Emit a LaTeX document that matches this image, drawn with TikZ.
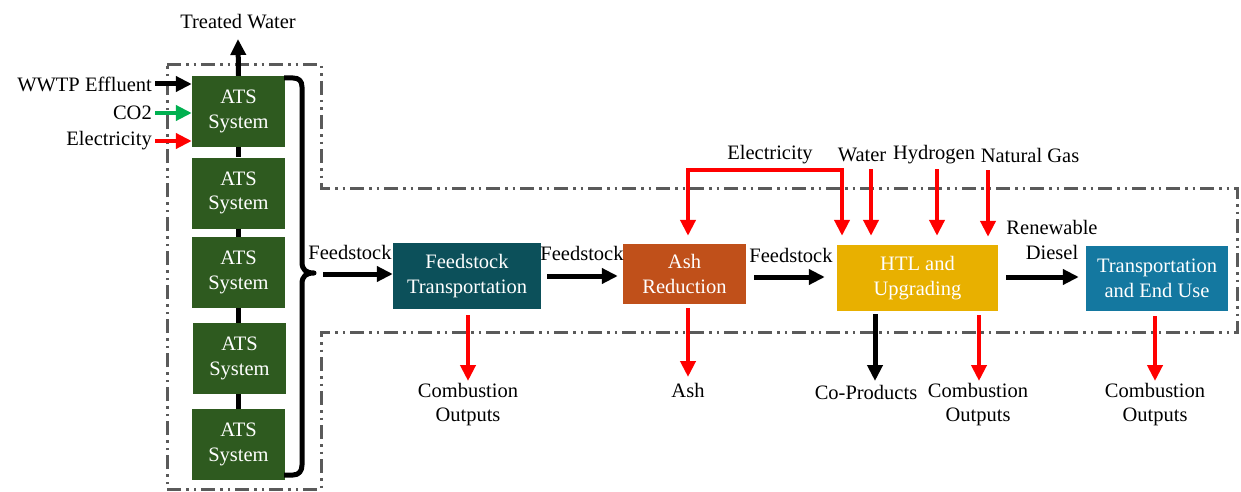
\documentclass[tikz,border=0pt]{standalone}
\usepackage{fontspec}
\setmainfont{Liberation Serif}
\newfontfamily\tnr{Liberation Serif}
\usetikzlibrary{arrows.meta}
\definecolor{atsgreen}{HTML}{2E5A1F}
\definecolor{ftteal}{HTML}{0C505A}
\definecolor{ashorange}{HTML}{C0501A}
\definecolor{htlgold}{HTML}{E8B000}
\definecolor{teblue}{HTML}{1478A0}
\definecolor{co2green}{HTML}{00B050}
\definecolor{bordergray}{HTML}{5A5A5A}
\begin{document}
\begin{tikzpicture}[x=1pt,y=-1pt,
  font=\tnr\fontsize{20.5}{24.5}\selectfont,
  procbox/.style={draw=none, text=white, align=center, inner sep=0pt},
  atsbox/.style={procbox, fill=atsgreen, minimum width=93pt, minimum height=71pt},
  lbl/.style={inner sep=0pt, align=center},
  blkarrow/.style={line width=5pt, black, -{Triangle[length=16pt,width=15pt]}},
  redarrow/.style={line width=4pt, red, -{Triangle[length=16pt,width=15pt]}},
  grnarrow/.style={line width=4pt, co2green, -{Triangle[length=16pt,width=15pt]}},
  blkline/.style={line width=5pt, black},
  border/.style={line width=3pt, bordergray,
    dash pattern=on 14pt off 5pt on 2.5pt off 5pt on 2.5pt off 5pt}]
\useasboundingbox (0,0) rectangle (1241,492);
\fill[white] (0,0) rectangle (1241,492);

% system boundary
\draw[border] (167,65) -- (321,65) -- (321,188) -- (1237,188) -- (1237,332)
  -- (321,332) -- (321,489) -- (167,489) -- cycle;

% ATS boxes
\node[atsbox] (a1) at (238.5,111.5) {ATS\\System};
\node[atsbox] (a2) at (238.5,193) {ATS\\System};
\node[atsbox] (a3) at (238.5,272.5) {ATS\\System};
\node[atsbox] (a4) at (239.5,358.5) {ATS\\System};
\node[atsbox] (a5) at (238.5,444.5) {ATS\\System};
\draw[blkline] (a1.south) -- (a2.north);
\draw[blkline] (a2.south) -- (a3.north);
\draw[blkline] (a3.south) -- (a4.north -| a3.south);
\draw[blkline] (a4.south -| a5.north) -- (a5.north);

% treated water
\node[lbl] (tw) at (238,22) {Treated Water};
\coordinate (twtip) at (238,39);
\draw[blkarrow] (a1.north) -- (twtip);

% inputs to ATS
\node[lbl, anchor=east] (wwtp) at (152,84) {WWTP Effluent};
\node[lbl, anchor=east] (co2) at (152,113) {CO2};
\node[lbl, anchor=east] (elA) at (152,141) {Electricity};
\draw[blkarrow, shorten <=3pt] (wwtp.east) -- (wwtp.east -| a1.west);
\draw[grnarrow, shorten <=3pt] (co2.east) -- (co2.east -| a1.west);
\draw[redarrow, shorten <=3pt] (elA.east) -- (elA.east -| a1.west);

% brace
\coordinate (btip) at (314,273);
\draw[line width=5pt, line join=round] (284,78) -- (293,78)
  .. controls (299,78) and (302,81) .. (302,87) -- (302,262)
  .. controls (302,270) and (306,273) .. (btip)
  .. controls (306,273) and (302,276) .. (302,284) -- (302,465)
  .. controls (302,471) and (299,475) .. (293,475) -- (284,475);

% process boxes
\node[procbox, fill=ftteal, minimum width=148pt, minimum height=66pt] (ft) at (467,276) {Feedstock\\Transportation};
\node[procbox, fill=ashorange, minimum width=123pt, minimum height=60pt] (ash) at (684.5,274) {Ash\\Reduction};
\node[procbox, fill=htlgold, minimum width=161pt, minimum height=66pt] (htl) at (917.5,278) {HTL and\\Upgrading};
\node[procbox, fill=teblue, minimum width=142pt, minimum height=65pt] (te) at (1157,278.5) {Transportation\\and End Use};

% main flow arrows
\coordinate (fs0) at (323,274);
\draw[blkarrow] (fs0) -- (fs0 -| ft.west);
\node[lbl] (fsl1) at (350,252) {Feedstock};
\coordinate (row2) at (0,276);
\draw[blkarrow, shorten <=6pt, shorten >=5pt] (ft.east |- row2) -- (ash.west |- row2);
\node[lbl] (fsl2) at (582,253) {Feedstock};
\coordinate (row3) at (0,277);
\draw[blkarrow, shorten <=8pt, shorten >=12pt] (ash.east |- row3) -- (htl.west |- row3);
\node[lbl] (fsl3) at (791,255) {Feedstock};
\draw[blkarrow, shorten <=8pt, shorten >=7pt] (htl.east |- row3) -- (te.west |- row3);
\node[lbl] (rd) at (1052,240) {Renewable\\Diesel};

% top inputs to HTL / ash
\node[lbl] (elB) at (770,155) {Electricity};
\node[lbl] (wat) at (862,155) {Water};
\node[lbl] (hyd) at (934,155) {Hydrogen};
\node[lbl] (ng) at (1030,155) {Natural Gas};
\coordinate (e1) at (688,170);
\coordinate (e2) at (842,170);
\draw[redarrow, {Triangle[length=16pt,width=15pt]}-{Triangle[length=16pt,width=15pt]},
  shorten <=8pt, shorten >=9pt] (e1 |- ash.north) -- (e1) -- (e2) -- (e2 |- htl.north);
\coordinate (w1) at (871,169);
\coordinate (h1) at (937,169);
\coordinate (n1) at (988,170);
\draw[redarrow, shorten >=9pt] (w1) -- (w1 |- htl.north);
\draw[redarrow, shorten >=9pt] (h1) -- (h1 |- htl.north);
\draw[redarrow, shorten >=8pt] (n1) -- (n1 |- htl.north);

% bottom outputs
\node[lbl] (co1) at (468,404.5) {Combustion\\Outputs};
\node[lbl] (ashout) at (688,390) {Ash};
\node[lbl] (cop) at (866,392) {Co-Products};
\node[lbl] (co2o) at (978,404.5) {Combustion\\Outputs};
\node[lbl] (co3) at (1155,404.5) {Combustion\\Outputs};
\coordinate (t1) at (468,381);
\coordinate (t2) at (688,377);
\coordinate (t3) at (875,381);
\coordinate (t4) at (979,381);
\coordinate (t5) at (1155,381);
\draw[redarrow, shorten <=6pt] (t1 |- ft.south) -- (t1);
\draw[redarrow, shorten <=4pt] (t2 |- ash.south) -- (t2);
\draw[blkarrow, shorten <=3pt] (t3 |- htl.south) -- (t3);
\draw[redarrow, shorten <=4pt] (t4 |- htl.south) -- (t4);
\draw[redarrow, shorten <=5pt] (t5 |- te.south) -- (t5);
\end{tikzpicture}
\end{document}
